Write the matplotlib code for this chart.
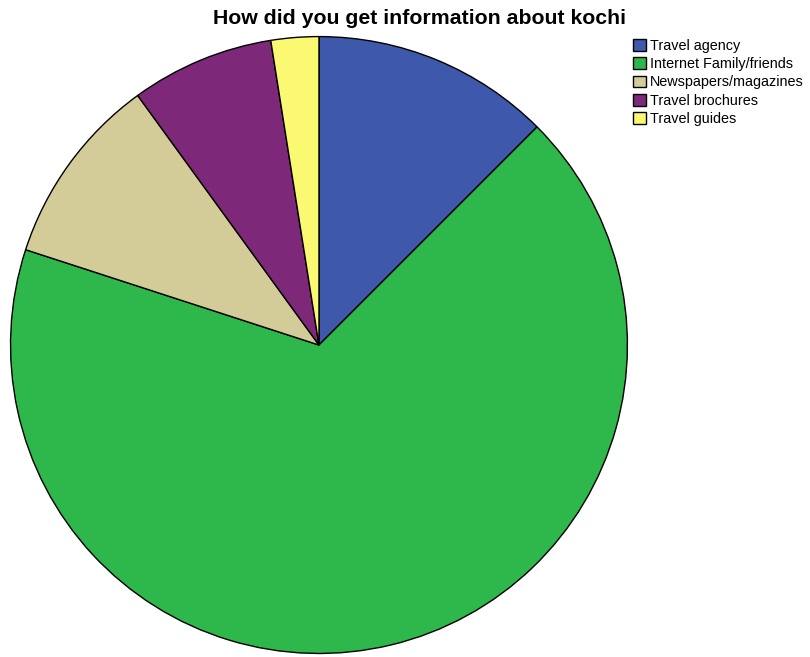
import matplotlib.pyplot as plt

plt.rcParams['font.family'] = ['Liberation Sans', 'DejaVu Sans']

# datos (conteos de respuestas)
categorias = ['Travel agency', 'Internet Family/friends', 'Newspapers/magazines',
              'Travel brochures', 'Travel guides']
conteos = [10, 54, 8, 6, 2]
colores = ['#3E58AC', '#2EB74A', '#D4CC98', '#7D2879', '#FBF872']

fig = plt.figure(figsize=(8.10, 6.57), dpi=100)
ax = fig.add_axes([0.0111, 0.003, 0.7654, 0.9437])

trozos, _ = ax.pie(conteos, colors=colores, startangle=90, counterclock=False,
                   radius=1, wedgeprops=dict(edgecolor='black', linewidth=1))
ax.set_xlim(-1.005, 1.005)
ax.set_ylim(-1.005, 1.005)
ax.set_aspect('equal')
ax.axis('off')

fig.text(0.518, 0.972, 'How did you get information about kochi',
         ha='center', va='center', fontsize=15.3, fontweight='bold')

fig.legend(trozos, categorias, loc='upper left', bbox_to_anchor=(0.782, 0.941),
           frameon=False, fontsize=10.4, handlelength=0.85, handleheight=0.85,
           handletextpad=0.3, labelspacing=0.3, borderaxespad=0, borderpad=0)

fig.savefig('out.png', dpi=100)
